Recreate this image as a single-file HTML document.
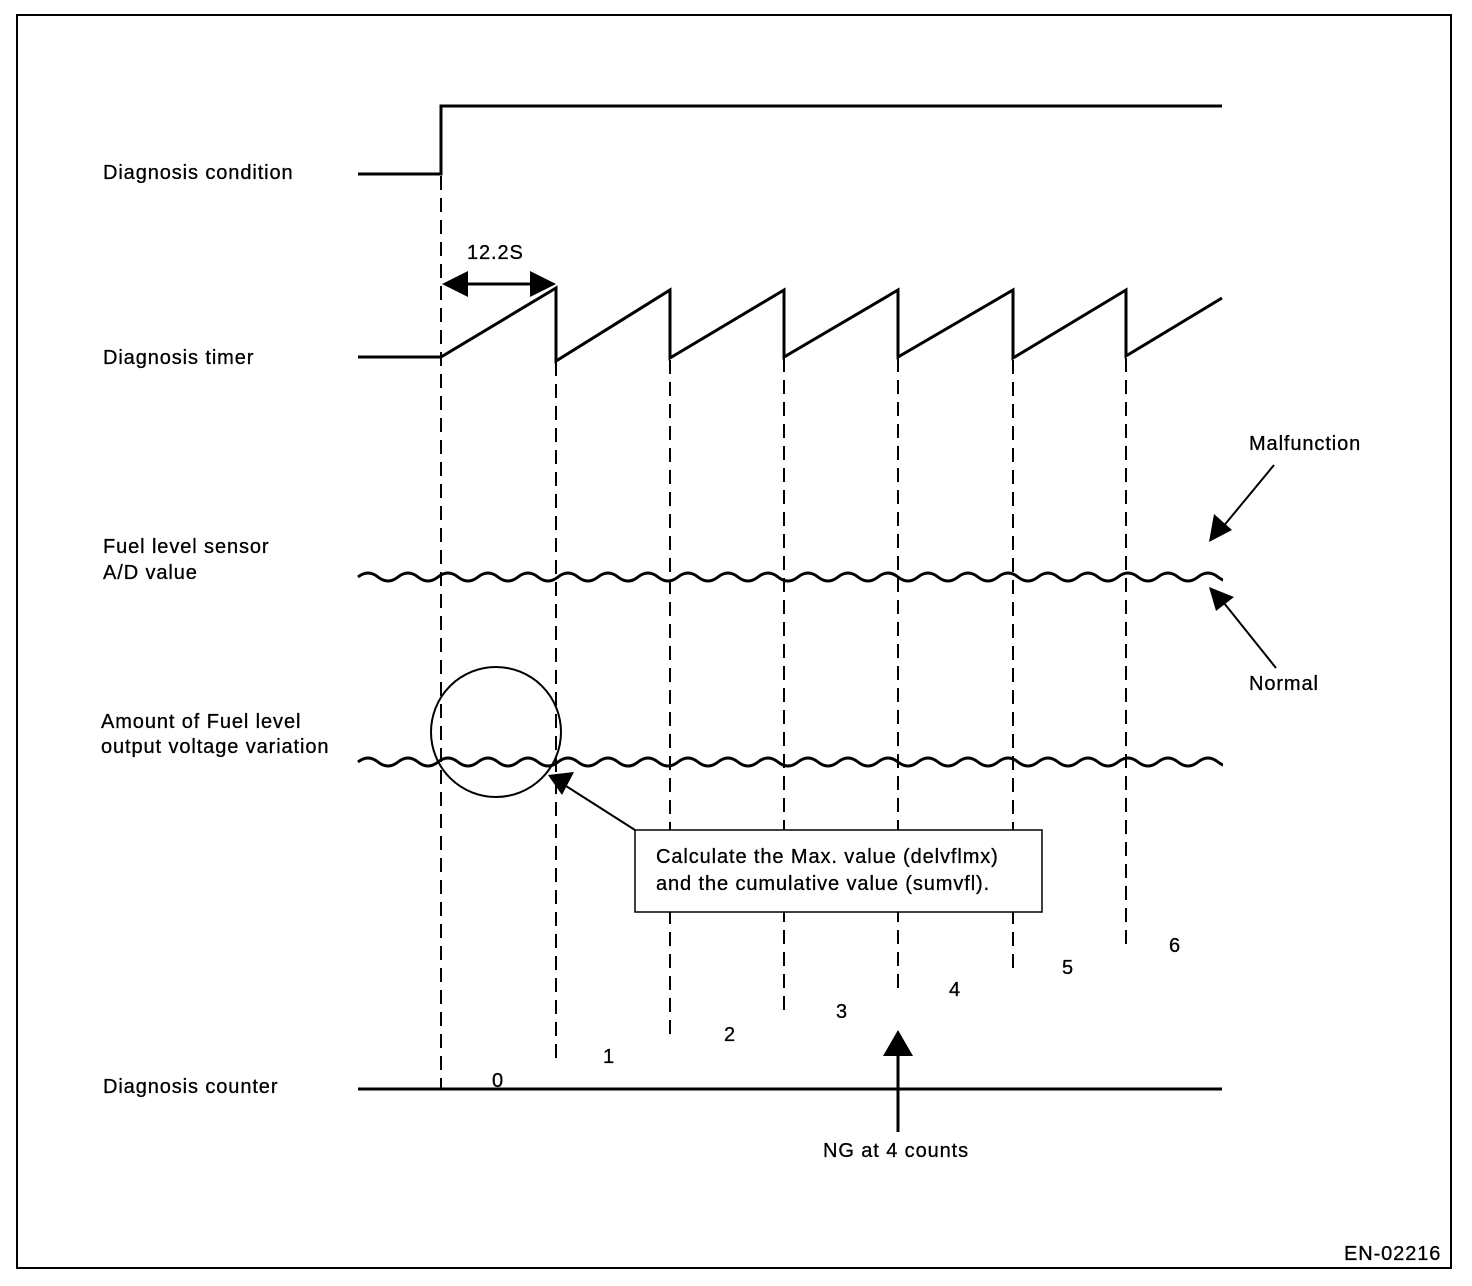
<!DOCTYPE html>
<html><head><meta charset="utf-8"><style>
html,body{margin:0;padding:0;background:#fff;}
svg{display:block;}
text{font-family:"Liberation Sans",sans-serif;font-size:20px;fill:#000;letter-spacing:0.9px;stroke:#000;stroke-width:0.3px;}
</style></head><body>
<svg width="1472" height="1286" viewBox="0 0 1472 1286" xmlns="http://www.w3.org/2000/svg">
<defs><clipPath id="c"><rect x="350" y="0" width="873" height="1286"/></clipPath></defs>
<rect x="17" y="15" width="1434" height="1253" fill="none" stroke="#000" stroke-width="2"/>
<g fill="none" stroke="#000" stroke-width="3">
<path d="M358,174 H441 V106 H1222"/>
<path d="M358,357 H441 L556,288 V361 L670,290 V358 L784,290 V357 L898,290 V357 L1013,290 V358 L1126,290 V356 L1222,298"/>
<path d="M358,1089 H1222"/>
<path d="M898,1050 V1132"/>
<path d="M460,284 H540"/>
</g>
<g fill="none" stroke="#000" stroke-width="2" stroke-dasharray="14,8">
<path d="M441,176 V1088"/>
<path d="M556,362 V1062"/>
<path d="M670,360 V1040"/>
<path d="M784,358 V1018"/>
<path d="M898,358 V995"/>
<path d="M1013,360 V972"/>
<path d="M1126,358 V950"/>
</g>
<g fill="none" stroke="#000" stroke-width="3" clip-path="url(#c)">
<path d="M358,577 q10,-8 20,0 t20,0 t20,0 t20,0 t20,0 t20,0 t20,0 t20,0 t20,0 t20,0 t20,0 t20,0 t20,0 t20,0 t20,0 t20,0 t20,0 t20,0 t20,0 t20,0 t20,0 t20,0 t20,0 t20,0 t20,0 t20,0 t20,0 t20,0 t20,0 t20,0 t20,0 t20,0 t20,0 t20,0 t20,0 t20,0 t20,0 t20,0 t20,0 t20,0 t20,0 t20,0 t20,0 t20,0"/>
<path d="M358,762 q10,-8 20,0 t20,0 t20,0 t20,0 t20,0 t20,0 t20,0 t20,0 t20,0 t20,0 t20,0 t20,0 t20,0 t20,0 t20,0 t20,0 t20,0 t20,0 t20,0 t20,0 t20,0 t20,0 t20,0 t20,0 t20,0 t20,0 t20,0 t20,0 t20,0 t20,0 t20,0 t20,0 t20,0 t20,0 t20,0 t20,0 t20,0 t20,0 t20,0 t20,0 t20,0 t20,0 t20,0 t20,0"/>
</g>
<circle cx="496" cy="732" r="65" fill="none" stroke="#000" stroke-width="2"/>
<g fill="#000">
<polygon points="442,284 468,271 468,297"/>
<polygon points="556,284 530,271 530,297"/>
<polygon points="898,1030 883,1056 913,1056"/>
<polygon points="1209,542 1214,514 1232,530"/>
<polygon points="1209,587 1234,597 1216,611"/>
<polygon points="548,775 574,772 562,795"/>
</g>
<g stroke="#000" stroke-width="2">
<line x1="1222" y1="528" x2="1274" y2="465"/>
<line x1="1224" y1="603" x2="1276" y2="668"/>
<line x1="566" y1="786" x2="635" y2="830"/>
</g>
<rect x="635" y="830" width="407" height="82" fill="#fff" stroke="#000" stroke-width="1.5"/>
<text x="656" y="863">Calculate the Max. value (delvflmx)</text>
<text x="656" y="890">and the cumulative value (sumvfl).</text>
<text x="103" y="179">Diagnosis condition</text>
<text x="103" y="364">Diagnosis timer</text>
<text x="103" y="553">Fuel level sensor</text>
<text x="103" y="579">A/D value</text>
<text x="101" y="728">Amount of Fuel level</text>
<text x="101" y="753">output voltage variation</text>
<text x="103" y="1093">Diagnosis counter</text>
<text x="467" y="259">12.2S</text>
<text x="1249" y="450">Malfunction</text>
<text x="1249" y="690">Normal</text>
<text x="492" y="1087">0</text>
<text x="603" y="1063">1</text>
<text x="724" y="1041">2</text>
<text x="836" y="1018">3</text>
<text x="949" y="996">4</text>
<text x="1062" y="974">5</text>
<text x="1169" y="952">6</text>
<text x="823" y="1157">NG at 4 counts</text>
<text x="1344" y="1260">EN-02216</text>
</svg>
</body></html>
